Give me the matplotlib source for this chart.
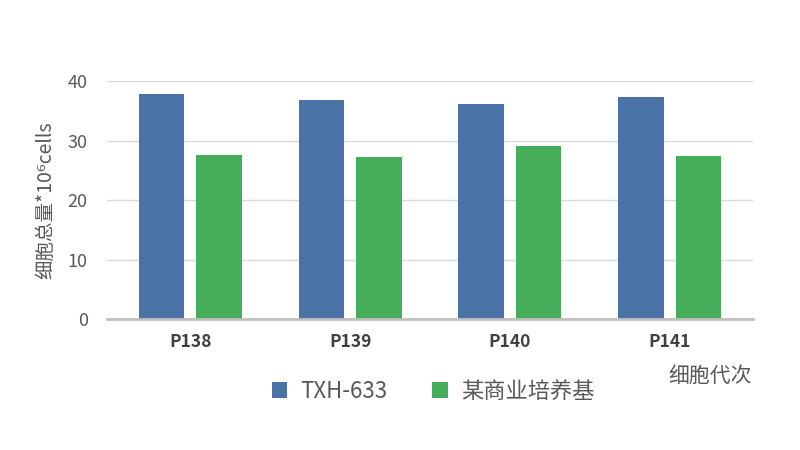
import matplotlib
matplotlib.use("Agg")
import matplotlib.pyplot as plt
import numpy as np

plt.rcParams['font.family'] = ['Noto Sans CJK SC', 'DejaVu Sans']

categories = ["P138", "P139", "P140", "P141"]
txh_633 = [37.8, 36.8, 36.1, 37.3]
commercial = [27.6, 27.2, 29.1, 27.4]
series_names = ["TXH-633", "某商业培养基"]
colors = ["#4A72A6", "#46AD5A"]

fig = plt.figure(figsize=(8, 4.5), dpi=100)
ax = fig.add_axes([0.134, 0.291, 0.807, 0.529])

x = np.arange(len(categories))
w = 0.285
off = 0.18
ax.bar(x - off, txh_633, w, color=colors[0], label=series_names[0], zorder=3)
ax.bar(x + off, commercial, w, color=colors[1], label=series_names[1], zorder=3)

ax.set_xlim(-0.52, len(categories) - 0.48)
ax.set_ylim(0, 40)
ax.set_yticks([0, 10, 20, 30, 40])
ax.yaxis.grid(True, color="#D9D9D9", linewidth=1, zorder=0)

for s in ["top", "right", "left"]:
    ax.spines[s].set_visible(False)
ax.spines["bottom"].set_color("#BFBFBF")
ax.spines["bottom"].set_linewidth(2)
ax.spines["bottom"].set_zorder(4)

ax.tick_params(axis="both", length=0, colors="#595959")
ax.tick_params(axis="y", labelsize=13, pad=14)
ax.set_xticks(x)
ax.set_xticklabels(categories, fontsize=12.5, fontweight="semibold", color="#404040")
ax.tick_params(axis="x", pad=10)

ax.set_ylabel("细胞总量*10⁶cells", fontsize=14, color="#595959", labelpad=8)

fig.text(0.94, 0.165, "细胞代次", fontsize=15, color="#595959", ha="right", va="center")

ax.legend(loc="upper center", bbox_to_anchor=(0.505, -0.17), ncol=2, frameon=False,
          fontsize=16, labelcolor="#595959", handlelength=0.7, handleheight=0.7,
          columnspacing=2.0, handletextpad=0.6)

fig.savefig("out.png", dpi=100)
